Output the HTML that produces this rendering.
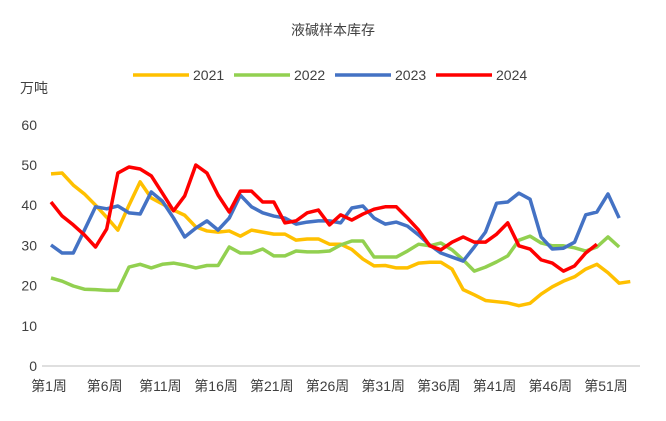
<!DOCTYPE html>
<html><head><meta charset="utf-8"><style>
body{margin:0;background:#fff;}
svg text{font-family:"Liberation Sans","Noto Sans CJK SC",sans-serif;fill:#404040;}
</style></head><body>
<svg width="666" height="416" id="c">
<text x="333" y="35" font-size="14" text-anchor="middle">液碱样本库存</text>
<text x="20" y="93" font-size="14">万吨</text>
<g id="legend"></g>
<g id="axes"></g>
<g id="series"></g>
</svg>
<script>
const years=["2021","2022","2023","2024"];
const colors=["#FFC000","#92D050","#4472C4","#FF0000"];
const yTicks=[0,10,20,30,40,50,60];
const s2021=[47.8,48,45,42.8,40,37,33.8,40,45.8,41.8,40.3,38.8,37.5,34.6,33.6,33.3,33.6,32.3,33.8,33.3,32.8,32.8,31.3,31.6,31.6,30.3,30.3,29,26.6,24.9,25,24.4,24.4,25.6,25.8,25.8,24.1,19,17.7,16.3,16,15.7,15,15.6,17.9,19.7,21.1,22.2,24.1,25.3,23.2,20.6,21];
const s2022=[21.9,21.1,19.9,19.1,19,18.8,18.8,24.6,25.3,24.4,25.3,25.6,25.1,24.4,25,25,29.6,28.1,28.1,29.1,27.4,27.4,28.6,28.4,28.4,28.6,30.1,31.1,31.1,27.1,27.1,27.1,28.6,30.3,29.9,30.6,28.9,26.4,23.6,24.6,25.9,27.4,31.3,32.3,30.6,29.9,29.9,29.4,28.6,29.6,32.1,29.6];
const s2023=[30.1,28.1,28.1,33.8,39.6,39.1,39.8,38.1,37.8,43.3,41,36.8,32.1,34.3,36.1,33.8,36.8,42.5,39.6,38.1,37.3,36.8,35.3,35.8,36.1,36.1,35.6,39.3,39.8,36.8,35.3,35.8,34.8,32.6,30.1,28.1,27.1,26.1,29.6,33.3,40.5,40.8,43,41.5,32.1,29.1,29.3,30.8,37.6,38.3,42.8,36.8];
const s2024=[40.8,37.3,35.1,32.6,29.6,34.1,48,49.5,49,47.3,43,38.6,42.3,50,48,42.5,38.3,43.5,43.5,40.8,40.8,35.6,36.1,38.1,38.8,35.1,37.6,36.3,37.8,39,39.6,39.6,36.8,33.8,29.9,28.9,30.8,32.1,30.8,30.8,32.8,35.6,29.9,29.1,26.4,25.6,23.6,24.9,28.1,30.3];
const xLabels=[1,6,11,16,21,26,31,36,41,46,51];
const NS="http://www.w3.org/2000/svg";
const x0=51,dx=11.14,yBase=366,yScale=4.02;
const xs=w=>x0+dx*(w-1);
const ys=v=>yBase-v*yScale;
function mk(t,a,p){const e=document.createElementNS(NS,t);for(const k in a)e.setAttribute(k,a[k]);p.appendChild(e);return e;}
const axes=document.getElementById('axes');
yTicks.forEach(v=>{const t=mk('text',{x:37,y:ys(v)+5,'font-size':14,'text-anchor':'end'},axes);t.textContent=v;

});
const ax=mk('line',{x1:42,x2:640,y1:yBase,y2:yBase,stroke:'#bfbfbf','stroke-width':1},axes);


xLabels.forEach(w=>{const t=mk('text',{x:xs(w)-2,y:391,'font-size':14,'text-anchor':'middle'},axes);t.textContent='第'+w+'周';

});
const sg=document.getElementById('series');
[s2021,s2022,s2023,s2024].forEach((s,i)=>{
const p=mk('polyline',{points:s.map((v,j)=>xs(j+1)+','+ys(v)).join(' '),fill:'none',stroke:colors[i],'stroke-width':3.5,'stroke-linejoin':'round'},sg);

});
const lg=document.getElementById('legend');
const lx=[133,234,335,436];
years.forEach((y,i)=>{const g=mk('g',{},lg);


mk('line',{x1:lx[i],x2:lx[i]+56,y1:75,y2:75,stroke:colors[i],'stroke-width':3.5},g);
const t=mk('text',{x:lx[i]+60,y:80,'font-size':14},g);t.textContent=y;});
</script>
</body></html>
